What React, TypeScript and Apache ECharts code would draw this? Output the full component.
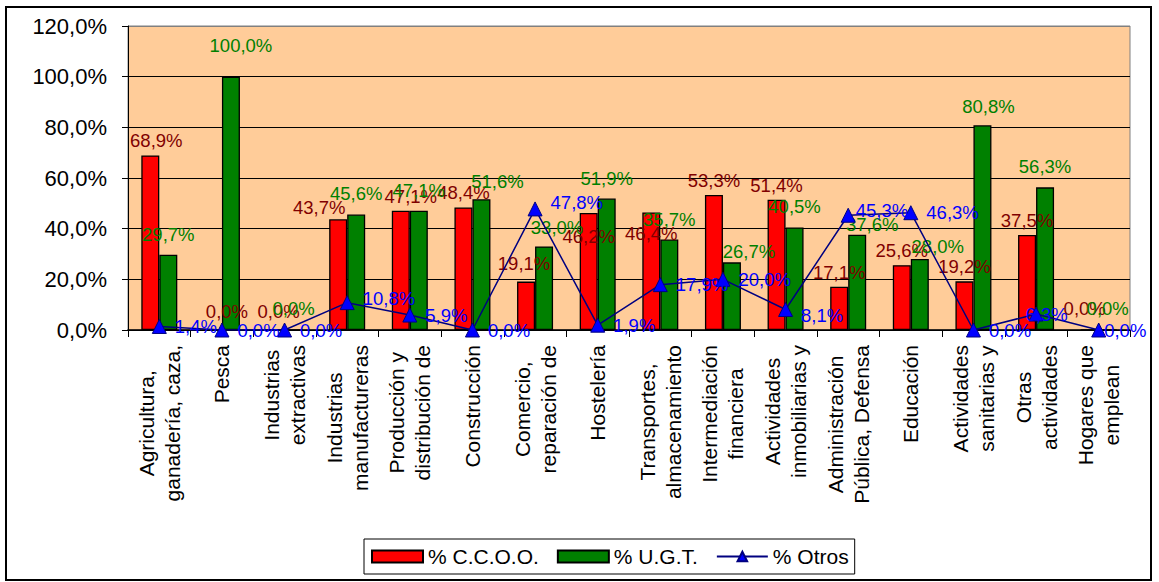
import React, { useEffect, useRef } from 'react';
import * as echarts from 'echarts';

const categories = [
  'Agricultura,\nganadería, caza,',
  'Pesca',
  'Industrias\nextractivas',
  'Industrias\nmanufactureras',
  'Producción y\ndistribución de',
  'Construcción',
  'Comercio,\nreparación de',
  'Hostelería',
  'Transportes,\nalmacenamiento',
  'Intermediación\nfinanciera',
  'Actividades\ninmobiliarias y',
  'Administración\nPública, Defensa',
  'Educación',
  'Actividades\nsanitarias y',
  'Otras\nactividades',
  'Hogares que\nemplean',
];

const ccoo = [68.9, 0.0, 0.0, 43.7, 47.1, 48.4, 19.1, 46.2, 46.4, 53.3, 51.4, 17.1, 25.6, 19.2, 37.5, 0.0];
const ugt = [29.7, 100.0, 0.0, 45.6, 47.1, 51.6, 33.0, 51.9, 35.7, 26.7, 40.5, 37.6, 28.0, 80.8, 56.3, 0.0];
const otros = [1.4, 0.0, 0.0, 10.8, 5.9, 0.0, 47.8, 1.9, 17.9, 20.0, 8.1, 45.3, 46.3, 0.0, 6.3, 0.0];

const seriesNames = ['% C.C.O.O.', '% U.G.T.', '% Otros'];

const FONT = "'Liberation Sans', Arial, sans-serif";

// label placement tweaks (style only)
const ccooNudge: Record<number, number[]> = {
  0: [6, 0], 1: [14, -3], 2: [3, -3], 3: [-19, 3], 4: [10, 0], 6: [-2, -4], 7: [0, 38], 8: [0, 36], 15: [-5, -6],
};
const ugtNudge: Record<number, number[]> = {
  1: [10, -11], 5: [16, 3], 6: [13, 2], 9: [17, 10], 11: [15, 10], 12: [18, 8], 13: [6, 2],
};
const otrosNudge: Record<number, number[]> = {
  3: [0, -4], 6: [0, -6], 10: [0, 6], 11: [-8, -5], 14: [-26, 0], 15: [-10, 0],
};

const pct = (v: number) => v.toFixed(1).replace('.', ',') + '%';

const withNudge = (vals: number[], nudge: Record<number, number[]>) =>
  vals.map((v, i) => (nudge[i] ? { value: v, label: { offset: nudge[i] } } : { value: v }));

export default function App() {
  const ref = useRef<HTMLDivElement>(null);
  useEffect(() => {
    const chart = echarts.init(ref.current!, null, { renderer: 'svg' });
    const option: any = {
      animation: false,
      backgroundColor: '#ffffff',
      textStyle: { fontFamily: FONT },
      graphic: [
        {
          type: 'rect',
          shape: { x: 6, y: 7, width: 1145, height: 573 },
          style: { fill: 'none', stroke: '#000000', lineWidth: 2 },
          z: 100,
        },
      ],
      grid: {
        left: 128,
        right: 29,
        top: 26,
        bottom: 252,
        show: true,
        backgroundColor: '#FFCC99',
        borderColor: '#808080',
        borderWidth: 1,
      },
      legend: {
        left: 364,
        top: 539,
        padding: [7, 6, 7, 7],
        itemGap: 18,
        itemWidth: 51,
        itemHeight: 12,
        borderColor: '#000000',
        borderWidth: 1,
        backgroundColor: '#ffffff',
        textStyle: { fontSize: 21, color: '#000000', fontFamily: FONT },
        data: [
          { name: seriesNames[0], icon: 'rect' },
          { name: seriesNames[1], icon: 'rect' },
          { name: seriesNames[2] },
        ],
      },
      xAxis: {
        type: 'category',
        data: categories,
        axisLine: { lineStyle: { color: '#000000', width: 1.5 } },
        axisTick: { show: true, length: 7, lineStyle: { color: '#000000', width: 1 } },
        axisLabel: {
          interval: 0,
          rotate: 90,
          margin: 15,
          color: '#000000',
          fontSize: 21,
          fontFamily: FONT,
          formatter: (v: string) => v.split('\n').map((l) => '{c|' + l + '}').join('\n'),
          rich: {
            c: { align: 'center', fontSize: 21, lineHeight: 26, fontFamily: FONT, color: '#000000' },
          },
        },
      },
      yAxis: {
        type: 'value',
        min: 0,
        max: 120,
        interval: 20,
        axisLine: { show: true, lineStyle: { color: '#000000', width: 1 } },
        axisTick: { show: true, length: 6, lineStyle: { color: '#000000' } },
        axisLabel: {
          margin: 21,
          color: '#000000',
          fontSize: 22,
          fontFamily: FONT,
          formatter: (v: number) => pct(v),
        },
        splitLine: {
          show: true,
          lineStyle: {
            color: ['#000000', '#000000', '#000000', '#000000', '#000000', '#000000', '#808080'],
            width: 1,
          },
        },
      },
      series: [
        {
          name: seriesNames[0],
          type: 'bar',
          barWidth: 18,
          barGap: '0%',
          data: withNudge(ccoo, ccooNudge),
          itemStyle: { color: '#FF0000', borderColor: '#000000', borderWidth: 1.3 },
          label: {
            show: true,
            position: 'top',
            distance: 5,
            color: '#800000',
            fontSize: 18.5,
            fontFamily: FONT,
            formatter: (p: any) => pct(p.value),
          },
        },
        {
          name: seriesNames[1],
          type: 'bar',
          barWidth: 18,
          barGap: '0%',
          data: withNudge(ugt, ugtNudge),
          itemStyle: { color: '#008000', borderColor: '#000000', borderWidth: 1.3 },
          label: {
            show: true,
            position: 'top',
            distance: 11,
            color: '#008000',
            fontSize: 18.5,
            fontFamily: FONT,
            formatter: (p: any) => pct(p.value),
          },
        },
        {
          name: seriesNames[2],
          type: 'line',
          data: withNudge(otros, otrosNudge),
          symbol: 'triangle',
          symbolSize: 14,
          z: 5,
          lineStyle: { color: '#000080', width: 1.5 },
          itemStyle: { color: '#0000FF', borderColor: '#000080', borderWidth: 1 },
          label: {
            show: true,
            position: 'right',
            distance: 8,
            color: '#0000FF',
            fontSize: 18.5,
            fontFamily: FONT,
            formatter: (p: any) => pct(p.value),
          },
        },
      ],
    };
    chart.setOption(option);
    return () => chart.dispose();
  }, []);
  return (
    <div
      ref={ref}
      style={{ position: 'absolute', left: 0, top: 0, width: 1159, height: 582, background: '#ffffff' }}
    />
  );
}
